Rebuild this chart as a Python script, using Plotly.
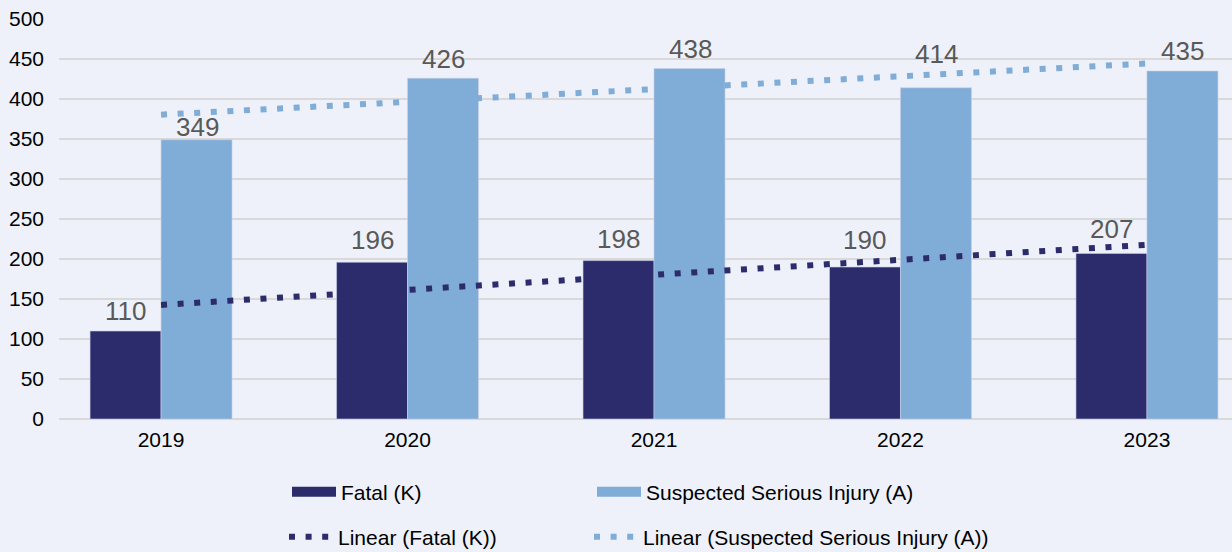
import plotly.graph_objects as go

years = ["2019", "2020", "2021", "2022", "2023"]
fatal = [110, 196, 198, 190, 207]
serious = [349, 426, 438, 414, 435]
# linear trend values read at first and last year
trend_years = ["2019", "2023"]
fatal_trend = [142.6, 217.8]
serious_trend = [380.4, 444.4]

# label placement (pixels above bar top), as in the reference
fatal_label_shift = [20, 22, 22, 27, 24]
serious_label_shift = [13, 19, 20, 34, 20]

navy = "#2c2c6c"
lightblue = "#80acd8"
bg = "#eef1f9"
font = "Liberation Sans, Arial, sans-serif"
label_color = "#595959"

fig = go.Figure()

fig.add_trace(go.Bar(
    x=years, y=fatal, name="Fatal (K)", showlegend=False,
    marker=dict(color=navy, line=dict(color="#c8d0e6", width=0.6))))
fig.add_trace(go.Bar(
    x=years, y=serious, name="Suspected Serious Injury (A)", showlegend=False,
    marker=dict(color=lightblue, line=dict(color="#c8d0e6", width=0.6))))

fig.add_trace(go.Scatter(
    x=trend_years, y=fatal_trend, mode="lines", name="Linear (Fatal (K))",
    line=dict(color=navy, width=6, dash="6px,10.6px"), legend="legend3"))
fig.add_trace(go.Scatter(
    x=trend_years, y=serious_trend, mode="lines", name="Linear (Suspected Serious Injury (A))",
    line=dict(color=lightblue, width=6, dash="6px,10.6px"), legend="legend4"))

# legend keys for the bar series (wide rectangles as in the reference)
fig.add_trace(go.Scatter(x=[None], y=[None], mode="lines", name="Fatal (K)",
                         line=dict(color=navy, width=14), legend="legend"))
fig.add_trace(go.Scatter(x=[None], y=[None], mode="lines", name="Suspected Serious Injury (A)",
                         line=dict(color=lightblue, width=14), legend="legend2"))

# data labels (category axis: annotation x is the category index)
for vals, shifts, xs in ((fatal, fatal_label_shift, -35.5), (serious, serious_label_shift, 36)):
    for i, (v, s) in enumerate(zip(vals, shifts)):
        fig.add_annotation(x=i, y=v, xref="x", yref="y", text=str(v), showarrow=False,
                           xshift=xs, yshift=s, xanchor="center", yanchor="middle",
                           font=dict(size=26, color=label_color, family=font))

xr = [-0.414, 4.345]


def leg(x, y):
    return dict(orientation="h", xref="container", yref="container", x=x / 1232, y=1 - y / 552,
                xanchor="left", yanchor="middle", itemwidth=44,
                font=dict(size=21, color="#000000"), bgcolor="rgba(0,0,0,0)")


fig.update_layout(
    width=1232, height=552,
    margin=dict(l=59, r=0, t=19, b=133),
    paper_bgcolor=bg, plot_bgcolor=bg,
    font=dict(family=font, size=21, color="#000000"),
    barmode="group", bargap=0.424, bargroupgap=0,
    xaxis=dict(type="category", categoryorder="array", categoryarray=years, range=xr,
               showgrid=False, showline=False, ticks="", ticklabelstandoff=6,
               tickfont=dict(size=21, color="#000000")),
    yaxis=dict(range=[0, 500], dtick=50, showgrid=True, gridcolor="#d9d9d9", gridwidth=1.5,
               zeroline=True, zerolinecolor="#d9d9d9", zerolinewidth=1.5,
               showline=False, ticks="", ticklabelstandoff=14,
               tickfont=dict(size=21, color="#000000")),
    legend=leg(287, 492),
    legend2=leg(592, 492),
    legend3=leg(284, 537),
    legend4=leg(589, 537),
)

fig.write_html("out.html", config={"displayModeBar": False},
               post_script="document.body.style.margin='0px';document.body.style.background='%s';" % bg)
